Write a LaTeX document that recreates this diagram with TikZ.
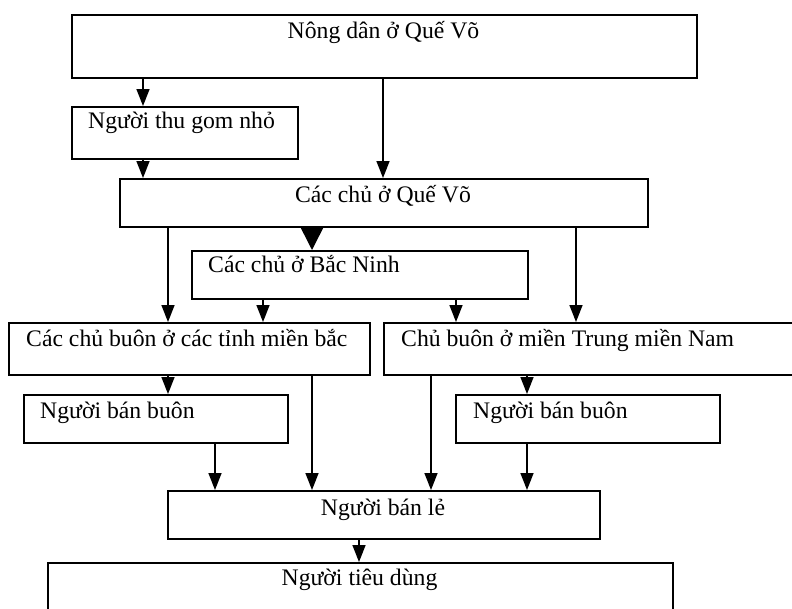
\documentclass[tikz,border=0pt]{standalone}
\usepackage{fontspec}
\setmainfont{Liberation Serif}
\usetikzlibrary{arrows.meta}
\begin{document}
\begin{tikzpicture}[x=1pt,y=-1pt,
  box/.style={draw, line width=1.8pt, rectangle, inner sep=0pt, anchor=north west},
  txt/.style={inner sep=0pt, font=\fontsize{23.7}{28}\selectfont},
  arr/.style={line width=1.6pt, -{Triangle[length=17pt,width=13pt]}},
  bigarr/.style={line width=1.6pt, -{Triangle[length=24pt,width=24pt]}}]
\useasboundingbox (0,0) rectangle (792,608);
\fill[white] (0,0) rectangle (792,608);
\clip (0,0) rectangle (792,608);
% boxes
\node[box, minimum width=625pt, minimum height=63pt] (b1) at (71,14) {};
\node[box, minimum width=226pt, minimum height=52pt] (b2) at (71,106) {};
\node[box, minimum width=528pt, minimum height=48pt] (b3) at (119,178) {};
\node[box, minimum width=336pt, minimum height=48pt] (b4) at (191,250) {};
\node[box, minimum width=361pt, minimum height=52pt] (b5) at (8,322) {};
\node[box, minimum width=437pt, minimum height=52pt] (b6) at (383,322) {};
\node[box, minimum width=264pt, minimum height=48pt] (b7) at (23,394) {};
\node[box, minimum width=264pt, minimum height=48pt] (b8) at (455,394) {};
\node[box, minimum width=432pt, minimum height=48pt] (b9) at (167,490) {};
\node[box, minimum width=625pt, minimum height=52pt] (b10) at (47,562) {};
% texts
\node[txt, anchor=base] (t1) at (383.5,38) {Nông dân ở Quế Võ};
\node[txt, anchor=base west] (t2) at (88,128) {Người thu gom nhỏ};
\node[txt, anchor=base] (t3) at (383,202) {Các chủ ở Quế Võ};
\node[txt, anchor=base west] (t4) at (208,272) {Các chủ ở Bắc Ninh};
\node[txt, anchor=base west] (t5) at (26,346) {Các chủ buôn ở các tỉnh miền bắc};
\node[txt, anchor=base west] (t6) at (401,346) {Chủ buôn ở miền Trung miền Nam};
\node[txt, anchor=base west] (t7) at (40,418) {Người bán buôn};
\node[txt, anchor=base west] (t8) at (473,418) {Người bán buôn};
\node[txt, anchor=base] (t9) at (383,515) {Người bán lẻ};
\node[txt, anchor=base] (t10) at (359.5,585) {Người tiêu dùng};
% arrows
\draw[arr] (143,0 |- b1.south) -- (143,0 |- b2.north);
\draw[arr] (383,0 |- b1.south) -- (383,0 |- b3.north);
\draw[arr] (143,0 |- b2.south) -- (143,0 |- b3.north);
\draw[arr] (168,0 |- b3.south) -- (168,0 |- b5.north);
\draw[bigarr] (312,0 |- b3.south) -- (312,0 |- b4.north);
\draw[arr] (576,0 |- b3.south) -- (576,0 |- b6.north);
\draw[arr] (263,0 |- b4.south) -- (263,0 |- b5.north);
\draw[arr] (456,0 |- b4.south) -- (456,0 |- b6.north);
\draw[arr] (168,0 |- b5.south) -- (168,0 |- b7.north);
\draw[arr] (312,0 |- b5.south) -- (312,0 |- b9.north);
\draw[arr] (431,0 |- b6.south) -- (431,0 |- b9.north);
\draw[arr] (527,0 |- b6.south) -- (527,0 |- b8.north);
\draw[arr] (215,0 |- b7.south) -- (215,0 |- b9.north);
\draw[arr] (527,0 |- b8.south) -- (527,0 |- b9.north);
\draw[arr] (359,0 |- b9.south) -- (359,0 |- b10.north);
\end{tikzpicture}
\end{document}
